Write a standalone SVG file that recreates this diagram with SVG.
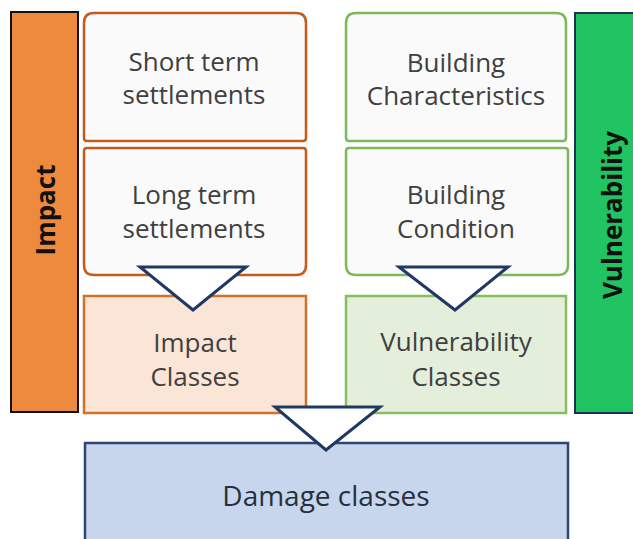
<svg xmlns="http://www.w3.org/2000/svg" width="633" height="539" viewBox="0 0 633 539">
<style>
.t{font-family:"Open Sans","Noto Sans",sans-serif;font-size:26px;fill:#404040;text-anchor:middle}
.b{font-family:"Open Sans","Noto Sans",sans-serif;font-size:26px;font-weight:bold;fill:#111;text-anchor:middle}
.ob{fill:#fafafa;stroke:#C65A1A;stroke-width:2.5}
.gb{fill:#fafafa;stroke:#7DB85A;stroke-width:2.5}
.tri{fill:#fff;stroke:#1F3864;stroke-width:3;stroke-linejoin:miter}
</style>
<rect width="633" height="539" fill="#fff"/>
<g id="impact-bar">
<rect x="11" y="12" width="67" height="400" fill="#EE8A3E" stroke="#111" stroke-width="2"/>
<text class="b" transform="translate(55,210) rotate(-90)">Impact</text>
</g>
<g id="vulnerability-bar">
<rect x="575" y="13" width="70" height="400" fill="#21C462" stroke="#1E3350" stroke-width="2"/>
<text class="b" transform="translate(622,215) rotate(-90)">Vulnerability</text>
</g>
<g id="short-term">
<path class="ob" d="M94,13 H296 Q306,13 306,23 V138 Q306,141 303,141 H87 Q84,141 84,138 V23 Q84,13 94,13 Z"/>
<text class="t" x="194" y="71">Short term</text>
<text class="t" x="194" y="104">settlements</text>
</g>
<g id="long-term">
<path class="ob" d="M87,148 H303 Q306,148 306,151 V265 Q306,275 296,275 H94 Q84,275 84,265 V151 Q84,148 87,148 Z"/>
<text class="t" x="194" y="204">Long term</text>
<text class="t" x="194" y="238">settlements</text>
</g>
<g id="building-characteristics">
<path class="gb" d="M356,13 H556 Q566,13 566,23 V138 Q566,141 563,141 H349 Q346,141 346,138 V23 Q346,13 356,13 Z"/>
<text class="t" x="456" y="72">Building</text>
<text class="t" x="456" y="105">Characteristics</text>
</g>
<g id="building-condition">
<path class="gb" d="M349,148 H565 Q568,148 568,151 V265 Q568,275 558,275 H356 Q346,275 346,265 V151 Q346,148 349,148 Z"/>
<text class="t" x="456" y="204">Building</text>
<text class="t" x="456" y="238">Condition</text>
</g>
<g id="impact-classes">
<rect x="84" y="296" width="222" height="117" fill="#FBE5D6" stroke="#D2712A" stroke-width="2.5"/>
<text class="t" x="195" y="352">Impact</text>
<text class="t" x="195" y="386">Classes</text>
</g>
<g id="vulnerability-classes">
<rect x="346" y="296" width="220" height="117" fill="#E3EFDA" stroke="#86BE62" stroke-width="2.5"/>
<text class="t" x="456" y="351" fill="#333">Vulnerability</text>
<text class="t" x="456" y="386">Classes</text>
</g>
<g id="damage-classes">
<rect x="85" y="443" width="483" height="100" fill="#C7D6EC" stroke="#2E4673" stroke-width="2.5"/>
<text class="t" x="326" y="506" style="font-size:28px;fill:#26303d">Damage classes</text>
</g>
<g id="connectors">
<polygon class="tri" points="140,267 246,267 193,310"/>
<polygon class="tri" points="399,267 508,267 455,310"/>
<polygon class="tri" points="275,407 380,407 326,450"/>
</g>
</svg>
